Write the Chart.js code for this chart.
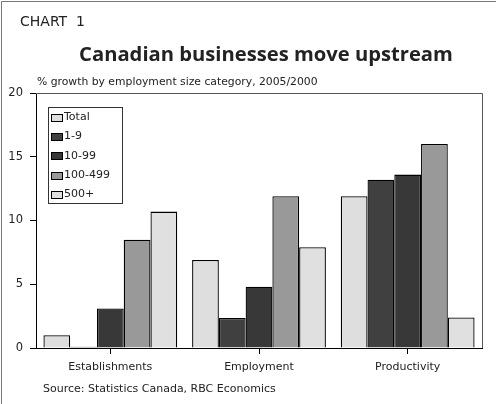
<!DOCTYPE html>
<html>
<head>
<meta charset="utf-8">
<script src="https://cdn.jsdelivr.net/npm/chart.js@4/dist/chart.umd.min.js"></script>
<style>
  html, body { margin: 0; padding: 0; background: #fff; }
  #wrap { position: relative; width: 498px; height: 404px; overflow: hidden; }
  #chart { position: absolute; left: 0; top: 0; }
  .txt { position: absolute; white-space: nowrap; color: #222; font-family: "DejaVu Sans", sans-serif; line-height: 1; }
  #label { left: 20px; top: 14px; font-size: 14px; }
  #title { left: 0; width: 532px; top: 43px; text-align: center; font-size: 20.2px; font-weight: bold; font-family: "Open Sans", sans-serif; }
  #sub { left: 37px; top: 77px; font-size: 10.8px; }
  #source { left: 43px; top: 383px; font-size: 11px; }
</style>
</head>
<body>
<div id="wrap">
  <canvas id="chart" width="498" height="404"></canvas>
  <div class="txt" id="label">CHART&nbsp; 1</div>
  <div class="txt" id="title">Canadian businesses move upstream</div>
  <div class="txt" id="sub">% growth by employment size category, 2005/2000</div>
  <div class="txt" id="source">Source: Statistics Canada, RBC Economics</div>
</div>
<script>
var categories = ['Establishments', 'Employment', 'Productivity'];
var seriesNames = ['Total', '1-9', '10-99', '100-499', '500+'];
var total = [1.0, 6.9, 11.9];
var size1to9 = [0.1, 2.35, 13.2];
var size10to99 = [3.1, 4.8, 13.6];
var size100to499 = [8.5, 11.9, 16.0];
var size500plus = [10.7, 7.9, 2.4];
var yTicks = [0, 5, 10, 15, 20];

var fills = ['#dedede', '#404040', '#383838', '#999999', '#e0e0e0'];
var values = [total, size1to9, size10to99, size100to499, size500plus];

// legend box in the upper left of the plot, plus the frame lines
var boxLegend = {
    id: 'boxLegend',
    afterDraw: function(chart) {
        var ctx = chart.ctx;
        var area = chart.chartArea;
        ctx.save();

        // outer frame: top and left edges only
        ctx.strokeStyle = '#777';
        ctx.lineWidth = 1;
        ctx.beginPath();
        ctx.moveTo(1.5, 404);
        ctx.lineTo(1.5, 1.5);
        ctx.lineTo(496, 1.5);
        ctx.stroke();

        // top and right of plot area
        ctx.strokeStyle = '#555';
        ctx.beginPath();
        ctx.moveTo(area.left, Math.round(area.top) + 0.5);
        ctx.lineTo(Math.round(area.right) + 0.5, Math.round(area.top) + 0.5);
        ctx.lineTo(Math.round(area.right) + 0.5, area.bottom);
        ctx.stroke();

        var x0 = 48, y0 = 107, w = 74, h = 96;
        ctx.fillStyle = '#fff';
        ctx.fillRect(x0, y0, w, h);
        ctx.strokeStyle = '#333';
        ctx.strokeRect(x0 + 0.5, y0 + 0.5, w, h);

        ctx.font = '11px "DejaVu Sans", sans-serif';
        ctx.textBaseline = 'middle';
        chart.data.datasets.forEach(function(ds, i) {
            var cy = y0 + 10 + i * 19.4;
            var sy = Math.round(cy - 3.5) + 0.5;
            ctx.fillStyle = ds.backgroundColor;
            ctx.fillRect(x0 + 3.5, sy, 11, 7);
            ctx.strokeStyle = '#000';
            ctx.strokeRect(x0 + 3.5, sy, 11, 7);
            ctx.fillStyle = '#222';
            ctx.fillText(ds.label, x0 + 16, cy);
        });
        ctx.restore();
    }
};

var ctx = document.getElementById('chart');

var chart = new Chart(ctx, {
    type: 'bar',
    data: {
        labels: categories,
        datasets: seriesNames.map(function(name, i) {
            return {
                label: name,
                data: values[i],
                backgroundColor: fills[i],
                borderColor: '#000',
                borderWidth: 1.3,
                categoryPercentage: 0.9,
                barPercentage: 1.0,
            };
        }),
    },
    options: {
        responsive: false,
        animation: false,
        layout: { padding: { left: 0, top: 93, right: 16, bottom: 0 } },
        plugins: {
            legend: { display: false },
            tooltip: { enabled: false },
        },
        scales: {
            x: {
                afterFit: function(scale) { scale.height = 56; },
                grid: {
                    offset: false,
                    drawOnChartArea: false,
                    drawTicks: true,
                    tickLength: 6,
                    color: '#000',
                },
                border: { color: '#000' },
                ticks: {
                    color: '#222',
                    padding: 7,
                    font: { family: '"DejaVu Sans", sans-serif', size: 11 },
                },
            },
            y: {
                min: 0,
                max: 20,
                afterFit: function(scale) { scale.width = 36; },
                afterBuildTicks: function(scale) {
                    scale.ticks = yTicks.map(function(v) { return { value: v }; });
                },
                grid: {
                    drawOnChartArea: false,
                    drawTicks: true,
                    tickLength: 6,
                    color: '#000',
                },
                border: { color: '#000' },
                ticks: {
                    color: '#222',
                    padding: 7,
                    font: { family: '"DejaVu Sans", sans-serif', size: 11.5 },
                },
            },
        },
    },
    plugins: [boxLegend],
});
</script>
</body>
</html>
